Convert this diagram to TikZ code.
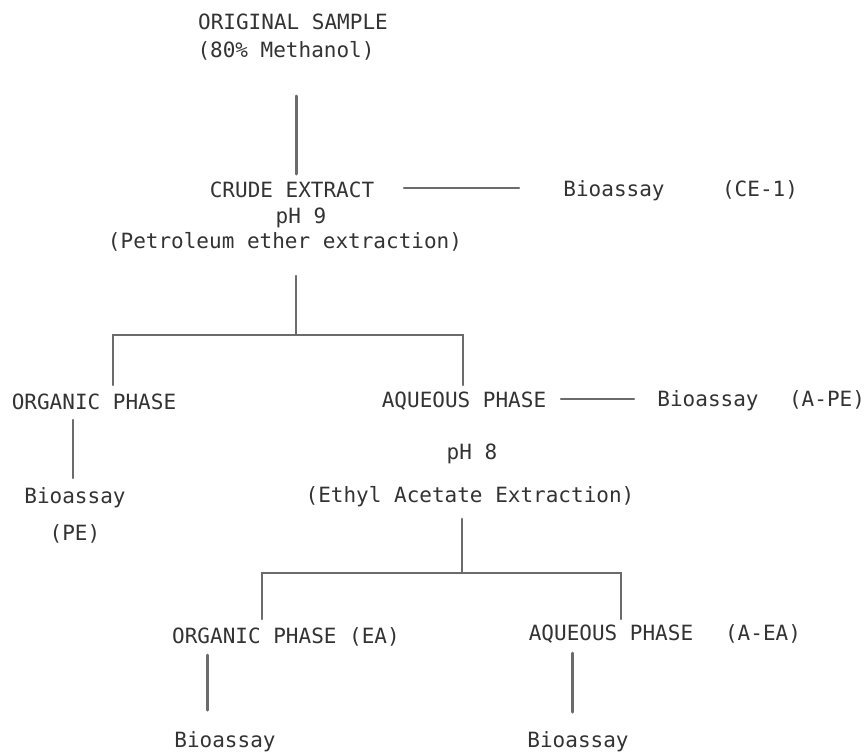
\documentclass[tikz,border=0pt]{standalone}
\usepackage{fontspec}
\newfontfamily\tw{DejaVu Sans Mono}
\definecolor{ink}{gray}{0.2}
\definecolor{rule}{gray}{0.42}
\tikzset{
  lbl/.style={inner sep=0pt, text height=15pt, text depth=0pt, text=ink,
              font=\tw\fontsize{21}{21}\selectfont},
  conn/.style={draw=rule, line width=2.2pt, line cap=round},
  thick conn/.style={conn, line width=3pt}
}
\begin{document}
\begin{tikzpicture}[x=1pt,y=-1pt]
\useasboundingbox[fill=white] (0,0) rectangle (866,752);
% text nodes
\node[lbl] (orig)  at (293,22)  {ORIGINAL SAMPLE};
\node[lbl] (meth)  at (286,50)  {(80\% Methanol)};
\node[lbl] (crude) at (292,190) {CRUDE EXTRACT};
\node[lbl] (bio1)  at (614,189) {Bioassay};
\node[lbl] (ce1)   at (760,189) {(CE-1)};
\node[lbl] (ph9)   at (301,216) {pH 9};
\node[lbl] (pet)   at (285,241) {(Petroleum ether extraction)};
\node[lbl] (org1)  at (94,402)  {ORGANIC PHASE};
\node[lbl] (aq1)   at (464,400) {AQUEOUS PHASE};
\node[lbl] (bio2)  at (708,399) {Bioassay};
\node[lbl] (ape)   at (827,399) {(A-PE)};
\node[lbl] (bio3)  at (75,496)  {Bioassay};
\node[lbl] (pe)    at (75,533)  {(PE)};
\node[lbl] (ph8)   at (472,452) {pH 8};
\node[lbl] (eth)   at (470,495) {(Ethyl Acetate Extraction)};
\node[lbl] (org2)  at (286,636) {ORGANIC PHASE (EA)};
\node[lbl] (aq2)   at (611,633) {AQUEOUS PHASE};
\node[lbl] (aea)   at (763,633) {(A-EA)};
\node[lbl] (bio4)  at (225,740) {Bioassay};
\node[lbl] (bio5)  at (578,740) {Bioassay};
% connector end points
\coordinate (o1) at (296,96);
\coordinate (o2) at (296,174);
\coordinate (c1) at (404,188);
\coordinate (c2) at (519,188);
\coordinate (p1) at (296,276);
\coordinate (p2) at (296,335);
\coordinate (pl) at (113,385);
\coordinate (pr) at (463,385);
\coordinate (a1) at (561,399);
\coordinate (a2) at (634,399);
\coordinate (g1) at (73,420);
\coordinate (g2) at (73,478);
\coordinate (e1) at (462,519);
\coordinate (e2) at (462,573);
\coordinate (el) at (262,619);
\coordinate (er) at (621,619);
\coordinate (h1) at (207,655);
\coordinate (h2) at (207,710);
\coordinate (k1) at (572,653);
\coordinate (k2) at (572,712);
% connectors
\draw[thick conn] (o1) -- (o2);
\draw[conn] (c1) -- (c2);
\draw[conn] (p1) -- (p2);
\draw[conn] (pl) |- (p2) -| (pr);
\draw[conn] (a1) -- (a2);
\draw[conn] (g1) -- (g2);
\draw[conn] (e1) -- (e2);
\draw[conn] (el) |- (e2) -| (er);
\draw[thick conn] (h1) -- (h2);
\draw[thick conn] (k1) -- (k2);
\end{tikzpicture}
\end{document}
